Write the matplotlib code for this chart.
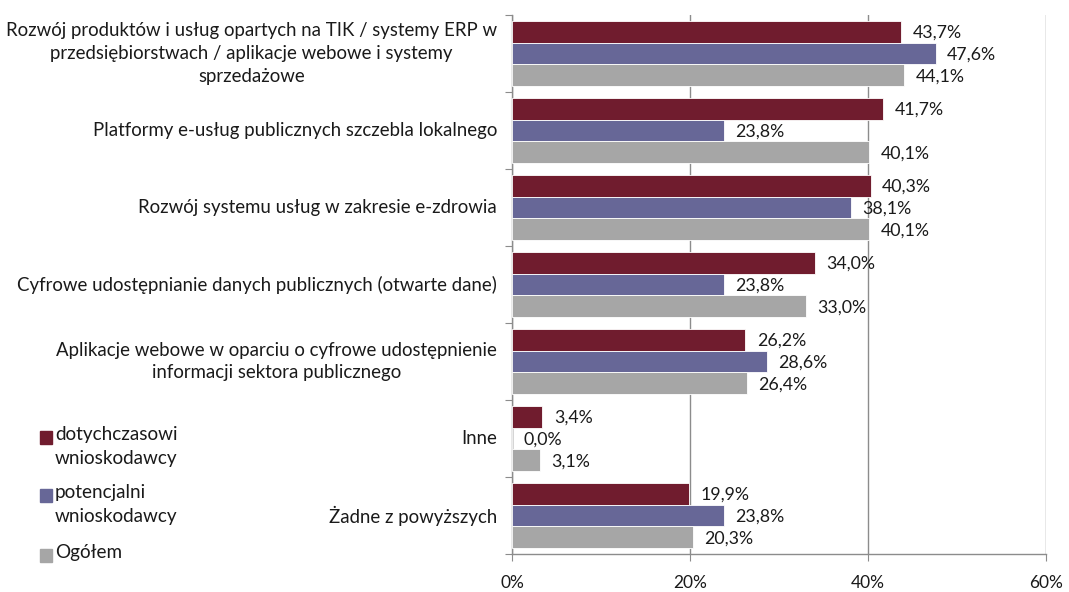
import matplotlib.pyplot as plt
import numpy as np
from matplotlib.patches import Rectangle

categories = [
    "Rozwój produktów i usług opartych na TIK / systemy ERP w\nprzedsiębiorstwach / aplikacje webowe i systemy\nsprzedażowe",
    "Platformy e-usług publicznych szczebla lokalnego",
    "Rozwój systemu usług w zakresie e-zdrowia",
    "Cyfrowe udostępnianie danych publicznych (otwarte dane)",
    "Aplikacje webowe w oparciu o cyfrowe udostępnienie\ninformacji sektora publicznego",
    "Inne",
    "Żadne z powyższych",
]
series_names = ["dotychczasowi\nwnioskodawcy", "potencjalni\nwnioskodawcy", "Ogółem"]
dotychczasowi = [43.7, 41.7, 40.3, 34.0, 26.2, 3.4, 19.9]
potencjalni = [47.6, 23.8, 38.1, 23.8, 28.6, 0.0, 23.8]
ogolem = [44.1, 40.1, 40.1, 33.0, 26.4, 3.1, 20.3]
x_ticks = [0, 20, 40, 60]

colors = ["#701c2e", "#676797", "#a6a6a6"]
text_color = "#1a1a1a"
grid_color = "#8c8c8c"

plt.rcParams["font.family"] = ["Lato", "DejaVu Sans"]

fig = plt.figure(figsize=(10.69, 5.92), dpi=100)
ax = fig.add_axes([512 / 1069, 1 - 554 / 592, 534 / 1069, 539 / 592])

n = len(categories)
y = np.arange(n)
h = 0.285
for i, (vals, col) in enumerate(zip([dotychczasowi, potencjalni, ogolem], colors)):
    pos = y + (i - 1) * h
    ax.barh(pos, vals, height=h, color=col, edgecolor="white", linewidth=0.6, zorder=3)
    for p, v in zip(pos, vals):
        ax.text(v + 1.3, p + 0.02, f"{v:.1f}%".replace(".", ","), va="center", ha="left",
                fontsize=12.8, color=text_color, zorder=4)

ax.set_ylim(n - 0.5, -0.5)
ax.set_xlim(0, 60)
ax.set_xticks(x_ticks)
ax.set_xticklabels([f"{t}%" for t in x_ticks], fontsize=12.5, color=text_color)
ax.tick_params(axis="x", length=5, pad=10, color=grid_color)

ax.set_yticks(np.arange(n + 1) - 0.5, minor=False)
ax.set_yticklabels([])
ax.tick_params(axis="y", length=5, color=grid_color)
for yi, lab in zip(y, categories):
    ax.text(-0.028, yi, lab, transform=ax.get_yaxis_transform(), ha="right", va="center",
            multialignment="center", fontsize=13.4, color=text_color, linespacing=1.42)

ax.grid(axis="x", color=grid_color, linewidth=1.0, zorder=0)
for s in ["top", "right"]:
    ax.spines[s].set_visible(False)
for s in ["left", "bottom"]:
    ax.spines[s].set_color(grid_color)
    ax.spines[s].set_linewidth(1.0)

# legend drawn by hand so the square sits on the first text line
legend_y = [437, 495, 555]
for name, col, ly in zip(series_names, colors, legend_y):
    fig.add_artist(Rectangle((40 / 1069, 1 - (ly + 7) / 592), 12 / 1069, 13 / 592,
                             transform=fig.transFigure, color=col))
    fig.text(55 / 1069, 1 - (ly - 11) / 592, name, ha="left", va="top", fontsize=13.6,
             color=text_color, linespacing=1.5)

fig.savefig("out.png", dpi=100)
